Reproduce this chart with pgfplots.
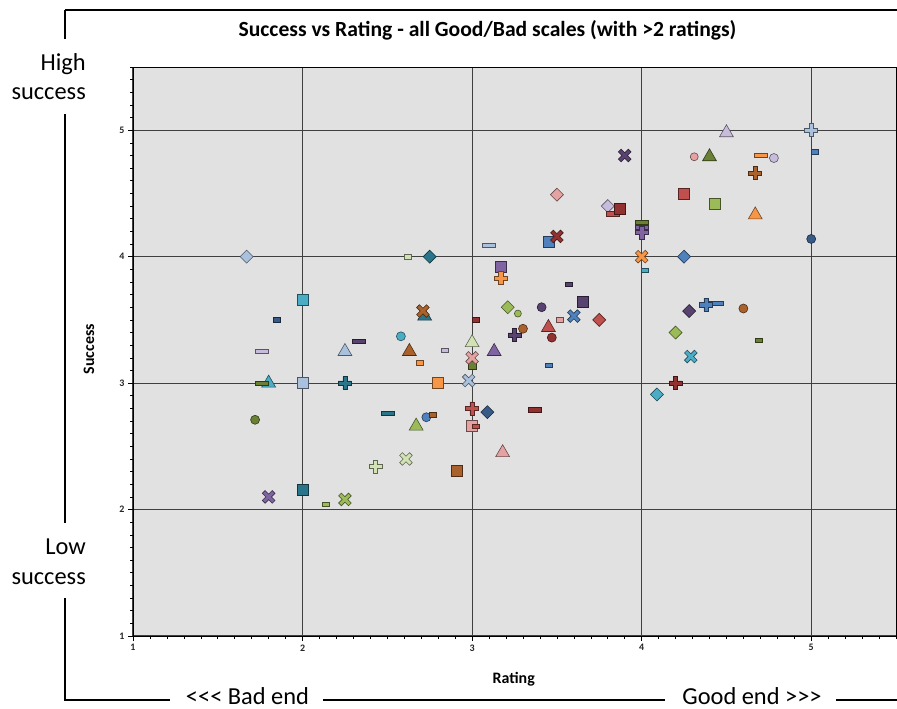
\documentclass[border=0pt]{standalone}
\usepackage{fontspec}
\setmainfont{Carlito}
\usepackage{pgfplots}
\pgfplotsset{compat=1.18}

% Excel-style palette
\definecolor{cBg}{RGB}{225,225,225}
\definecolor{cBlue}{RGB}{79,129,189}
\definecolor{cRed}{RGB}{192,80,77}
\definecolor{cGreen}{RGB}{155,187,89}
\definecolor{cPurple}{RGB}{128,100,162}
\definecolor{cAqua}{RGB}{75,172,198}
\definecolor{cOrange}{RGB}{247,150,70}
\definecolor{cDBlue}{RGB}{55,90,135}
\definecolor{cDRed}{RGB}{145,50,48}
\definecolor{cDGreen}{RGB}{106,128,52}
\definecolor{cDPurple}{RGB}{88,66,112}
\definecolor{cDAqua}{RGB}{42,117,138}
\definecolor{cDOrange}{RGB}{170,98,45}
\definecolor{cLBlue}{RGB}{170,193,222}
\definecolor{cLRed}{RGB}{229,162,162}
\definecolor{cLGreen}{RGB}{210,226,180}
\definecolor{cLPurple}{RGB}{200,188,220}

% filled marker shapes like the spreadsheet ones
\pgfdeclareplotmark{dash}{%
  \pgfpathrectangle{\pgfpoint{-\pgfplotmarksize}{-2.2bp}}{\pgfpoint{2\pgfplotmarksize}{4.4bp}}%
  \pgfusepathqfillstroke}
\pgfdeclareplotmark{dmd}{%
  \pgfpathmoveto{\pgfpoint{0pt}{\pgfplotmarksize}}%
  \pgfpathlineto{\pgfpoint{\pgfplotmarksize}{0pt}}%
  \pgfpathlineto{\pgfpoint{0pt}{-\pgfplotmarksize}}%
  \pgfpathlineto{\pgfpoint{-\pgfplotmarksize}{0pt}}%
  \pgfpathclose\pgfusepathqfillstroke}
\pgfdeclareplotmark{plusfill}{%
  \pgfpathmoveto{\pgfpoint{0.33\pgfplotmarksize}{\pgfplotmarksize}}%
  \pgfpathlineto{\pgfpoint{0.33\pgfplotmarksize}{0.33\pgfplotmarksize}}%
  \pgfpathlineto{\pgfpoint{\pgfplotmarksize}{0.33\pgfplotmarksize}}%
  \pgfpathlineto{\pgfpoint{\pgfplotmarksize}{-0.33\pgfplotmarksize}}%
  \pgfpathlineto{\pgfpoint{0.33\pgfplotmarksize}{-0.33\pgfplotmarksize}}%
  \pgfpathlineto{\pgfpoint{0.33\pgfplotmarksize}{-\pgfplotmarksize}}%
  \pgfpathlineto{\pgfpoint{-0.33\pgfplotmarksize}{-\pgfplotmarksize}}%
  \pgfpathlineto{\pgfpoint{-0.33\pgfplotmarksize}{-0.33\pgfplotmarksize}}%
  \pgfpathlineto{\pgfpoint{-\pgfplotmarksize}{-0.33\pgfplotmarksize}}%
  \pgfpathlineto{\pgfpoint{-\pgfplotmarksize}{0.33\pgfplotmarksize}}%
  \pgfpathlineto{\pgfpoint{-0.33\pgfplotmarksize}{0.33\pgfplotmarksize}}%
  \pgfpathlineto{\pgfpoint{-0.33\pgfplotmarksize}{\pgfplotmarksize}}%
  \pgfpathclose\pgfusepathqfillstroke}
\pgfdeclareplotmark{xfill}{%
  \pgfpathmoveto{\pgfpoint{-0.509\pgfplotmarksize}{0.905\pgfplotmarksize}}%
  \pgfpathlineto{\pgfpoint{0pt}{0.396\pgfplotmarksize}}%
  \pgfpathlineto{\pgfpoint{0.509\pgfplotmarksize}{0.905\pgfplotmarksize}}%
  \pgfpathlineto{\pgfpoint{0.905\pgfplotmarksize}{0.509\pgfplotmarksize}}%
  \pgfpathlineto{\pgfpoint{0.396\pgfplotmarksize}{0pt}}%
  \pgfpathlineto{\pgfpoint{0.905\pgfplotmarksize}{-0.509\pgfplotmarksize}}%
  \pgfpathlineto{\pgfpoint{0.509\pgfplotmarksize}{-0.905\pgfplotmarksize}}%
  \pgfpathlineto{\pgfpoint{0pt}{-0.396\pgfplotmarksize}}%
  \pgfpathlineto{\pgfpoint{-0.509\pgfplotmarksize}{-0.905\pgfplotmarksize}}%
  \pgfpathlineto{\pgfpoint{-0.905\pgfplotmarksize}{-0.509\pgfplotmarksize}}%
  \pgfpathlineto{\pgfpoint{-0.396\pgfplotmarksize}{0pt}}%
  \pgfpathlineto{\pgfpoint{-0.905\pgfplotmarksize}{0.509\pgfplotmarksize}}%
  \pgfpathclose\pgfusepathqfillstroke}

\pgfplotsset{
  pt/.style n args={3}{only marks, mark=#1, mark size=#2,
    mark options={solid, fill=#3, draw=#3!45!black, line width=0.6bp}},
}

\begin{document}
\begin{tikzpicture}
\useasboundingbox (0,0) rectangle (897bp,709bp);

% outer frame with the end captions
\begin{scope}[line width=1.2bp]
  \draw (65bp,699bp) -- (897bp,699bp);
  \draw (65bp,699bp) -- (65bp,670bp);
  \draw (65bp,595bp) -- (65bp,186bp);
  \draw (65bp,111bp) -- (65bp,9bp) -- (170bp,9bp);
  \draw (323bp,9bp) -- (665bp,9bp);
  \draw (836bp,9bp) -- (897bp,9bp);
\end{scope}
\begin{scope}[font=\fontsize{24.5}{29}\selectfont, inner sep=0pt]
  \node[anchor=base east] at (86bp,638bp) {High};
  \node[anchor=base east] at (86bp,609bp) {success};
  \node[anchor=base east] at (86bp,154bp) {Low};
  \node[anchor=base east] at (86bp,124bp) {success};
  \node[anchor=base] at (247.5bp,4.5bp) {<\kern0pt<\kern0pt< Bad end};
  \node[anchor=base] at (752bp,4.5bp) {Good end >\kern0pt>\kern0pt>};
\end{scope}

\begin{axis}[
  at={(133bp,73bp)}, anchor=south west,
  scale only axis, width=763bp, height=569bp,
  xmin=1, xmax=5.5, ymin=1, ymax=5.5,
  xtick={1,2,3,4,5}, ytick={1,2,3,4,5},
  minor xtick={1,1.1,...,5.5}, minor ytick={1,1.1,...,5.5},
  tick pos=left, tick align=outside,
  major tick length=5bp, minor tick length=3bp,
  tick style={black, line width=0.6bp},
  grid=major, major grid style={black!75, line width=1.1bp},
  axis line style={black, line width=0.8bp},
  axis background/.style={fill=cBg},
  ticklabel style={font=\bfseries\fontsize{10}{11}\selectfont, text=black!85},
  /pgf/number format/assume math mode=true,
  title={Success vs Rating - all Good/Bad scales (with >2 ratings)},
  title style={at={(axis description cs:0.4646,1.0427)}, anchor=base,
    font=\bfseries\fontsize{21.7}{26}\selectfont},
  xlabel={Rating}, ylabel={Success},
  xlabel style={at={(axis description cs:0.499,-0.0756)}, anchor=center,
    font=\bfseries\fontsize{16}{19}\selectfont},
  ylabel style={at={(axis description cs:-0.0577,0.504)}, anchor=center,
    font=\bfseries\fontsize{16}{19}\selectfont},
  clip=false,
]
% diamonds
\addplot[pt={dmd}{6.5bp}{cLBlue}] coordinates {(1.67,4.00)};
\addplot[pt={dmd}{6.5bp}{cDAqua}] coordinates {(2.75,4.00)};
\addplot[pt={dmd}{6.5bp}{cGreen}] coordinates {(3.21,3.60) (4.20,3.40)};
\addplot[pt={dmd}{6.5bp}{cRed}] coordinates {(3.75,3.50)};
\addplot[pt={dmd}{6.5bp}{cDBlue}] coordinates {(3.09,2.77)};
\addplot[pt={dmd}{6.5bp}{cAqua}] coordinates {(4.09,2.91)};
\addplot[pt={dmd}{6.5bp}{cBlue}] coordinates {(4.25,4.00)};
\addplot[pt={dmd}{6.5bp}{cDPurple}] coordinates {(4.28,3.57)};
\addplot[pt={dmd}{6.5bp}{cLRed}] coordinates {(3.50,4.49)};
\addplot[pt={dmd}{6.5bp}{cLPurple}] coordinates {(3.80,4.40)};
% squares
\addplot[pt={square*}{5.5bp}{cAqua}] coordinates {(2.00,3.66)};
\addplot[pt={square*}{5.5bp}{cLBlue}] coordinates {(2.00,3.00)};
\addplot[pt={square*}{5.5bp}{cOrange}] coordinates {(2.80,3.00)};
\addplot[pt={square*}{5.5bp}{cDAqua}] coordinates {(2.00,2.16)};
\addplot[pt={square*}{5.5bp}{cDOrange}] coordinates {(2.91,2.31)};
\addplot[pt={square*}{5.5bp}{cPurple}] coordinates {(3.17,3.92)};
\addplot[pt={square*}{5.5bp}{cDPurple}] coordinates {(3.65,3.64)};
\addplot[pt={square*}{5.5bp}{cLRed}] coordinates {(3.00,2.66)};
\addplot[pt={square*}{5.5bp}{cBlue}] coordinates {(3.45,4.12)};
\addplot[pt={square*}{5.5bp}{cRed}] coordinates {(4.25,4.50)};
\addplot[pt={square*}{5.5bp}{cGreen}] coordinates {(4.43,4.42)};
\addplot[pt={square*}{4bp}{cDGreen}] coordinates {(3.00,3.14)};
% triangles
\addplot[pt={triangle*}{8bp}{cLBlue}] coordinates {(2.25,3.25)};
\addplot[pt={triangle*}{8bp}{cDOrange}] coordinates {(2.63,3.25)};
\addplot[pt={triangle*}{8bp}{cAqua}] coordinates {(1.80,3.00)};
\addplot[pt={triangle*}{8bp}{cGreen}] coordinates {(2.67,2.66)};
\addplot[pt={triangle*}{8bp}{cDAqua}] coordinates {(2.72,3.53)};
\addplot[pt={triangle*}{8bp}{cLGreen}] coordinates {(3.00,3.32)};
\addplot[pt={triangle*}{8bp}{cPurple}] coordinates {(3.13,3.25)};
\addplot[pt={triangle*}{8bp}{cRed}] coordinates {(3.45,3.44)};
\addplot[pt={triangle*}{8bp}{cLRed}] coordinates {(3.18,2.45)};
\addplot[pt={triangle*}{8bp}{cLPurple}] coordinates {(4.50,4.98)};
\addplot[pt={triangle*}{8bp}{cDGreen}] coordinates {(4.40,4.79)};
\addplot[pt={triangle*}{8bp}{cOrange}] coordinates {(4.67,4.33)};
% circles
\addplot[pt={*}{4.5bp}{cAqua}] coordinates {(2.58,3.37)};
\addplot[pt={*}{4.5bp}{cDGreen}] coordinates {(1.72,2.71)};
\addplot[pt={*}{4.5bp}{cBlue}] coordinates {(2.73,2.73)};
\addplot[pt={*}{3.5bp}{cGreen}] coordinates {(3.27,3.55)};
\addplot[pt={*}{4.5bp}{cDOrange}] coordinates {(3.30,3.43) (4.60,3.59)};
\addplot[pt={*}{4.5bp}{cDPurple}] coordinates {(3.41,3.60)};
\addplot[pt={*}{4.5bp}{cDRed}] coordinates {(3.47,3.36)};
\addplot[pt={*}{4bp}{cLRed}] coordinates {(4.31,4.79)};
\addplot[pt={*}{4.5bp}{cLPurple}] coordinates {(4.78,4.78)};
\addplot[pt={*}{4.5bp}{cDBlue}] coordinates {(5.00,4.14)};
% dashes
\addplot[pt={dash}{6.5bp}{cLPurple}] coordinates {(1.76,3.25)};
\addplot[pt={dash}{6.5bp}{cDGreen}] coordinates {(1.76,3.00) (4.00,4.27)};
\addplot[pt={dash}{6.5bp}{cDPurple}] coordinates {(2.33,3.33)};
\addplot[pt={dash}{6.5bp}{cDAqua}] coordinates {(2.50,2.76)};
\addplot[pt={dash}{6.5bp}{cDRed}] coordinates {(3.37,2.79)};
\addplot[pt={dash}{6.5bp}{cLBlue}] coordinates {(3.10,4.09)};
\addplot[pt={dash}{6.5bp}{cRed}] coordinates {(3.83,4.34)};
\addplot[pt={dash}{6.5bp}{cOrange}] coordinates {(4.70,4.80)};
\addplot[pt={dash}{7.5bp}{cBlue}] coordinates {(4.44,3.63)};
\addplot[pt={dash}{6.5bp}{cPurple}] coordinates {(4.00,4.23)};
\addplot[pt={dash}{3.5bp}{cLGreen}] coordinates {(2.62,4.00)};
\addplot[pt={dash}{3.5bp}{cDBlue}] coordinates {(1.85,3.50)};
\addplot[pt={dash}{3.5bp}{cLPurple}] coordinates {(2.84,3.26)};
\addplot[pt={dash}{3.5bp}{cOrange}] coordinates {(2.69,3.16)};
\addplot[pt={dash}{3.5bp}{cDOrange}] coordinates {(2.77,2.75)};
\addplot[pt={dash}{3.5bp}{cGreen}] coordinates {(2.14,2.04)};
\addplot[pt={dash}{3.5bp}{cDRed}] coordinates {(3.02,3.50)};
\addplot[pt={dash}{3.5bp}{cDPurple}] coordinates {(3.57,3.78)};
\addplot[pt={dash}{3.5bp}{cLRed}] coordinates {(3.52,3.50)};
\addplot[pt={dash}{3.5bp}{cBlue}] coordinates {(3.45,3.14) (5.02,4.83)};
\addplot[pt={dash}{3.5bp}{cAqua}] coordinates {(4.02,3.89)};
\addplot[pt={dash}{3.5bp}{cDGreen}] coordinates {(4.69,3.34)};
\addplot[pt={dash}{3.5bp}{cRed}] coordinates {(3.02,2.66)};
% squares drawn over dashes
\addplot[pt={square*}{5.5bp}{cDRed}] coordinates {(3.87,4.38)};
% plus signs
\addplot[pt={plusfill}{6.5bp}{cDAqua}] coordinates {(2.25,3.00)};
\addplot[pt={plusfill}{6.5bp}{cLGreen}] coordinates {(2.43,2.34)};
\addplot[pt={plusfill}{6.5bp}{cOrange}] coordinates {(3.17,3.83)};
\addplot[pt={plusfill}{6.5bp}{cDPurple}] coordinates {(3.25,3.38)};
\addplot[pt={plusfill}{6.5bp}{cRed}] coordinates {(3.00,2.80)};
\addplot[pt={plusfill}{6.5bp}{cDRed}] coordinates {(4.20,3.00)};
\addplot[pt={plusfill}{6.5bp}{cBlue}] coordinates {(4.38,3.62)};
\addplot[pt={plusfill}{6.5bp}{cLBlue}] coordinates {(5.00,5.00)};
\addplot[pt={plusfill}{6.5bp}{cDOrange}] coordinates {(4.67,4.66)};
\addplot[pt={plusfill}{6.5bp}{cPurple}] coordinates {(4.00,4.19)};
% crosses
\addplot[pt={xfill}{7bp}{cDOrange}] coordinates {(2.71,3.57)};
\addplot[pt={xfill}{7bp}{cLBlue}] coordinates {(2.98,3.02)};
\addplot[pt={xfill}{7bp}{cLRed}] coordinates {(3.00,3.20)};
\addplot[pt={xfill}{7bp}{cLGreen}] coordinates {(2.61,2.40)};
\addplot[pt={xfill}{7bp}{cPurple}] coordinates {(1.80,2.10)};
\addplot[pt={xfill}{7bp}{cGreen}] coordinates {(2.25,2.08)};
\addplot[pt={xfill}{7bp}{cBlue}] coordinates {(3.60,3.53)};
\addplot[pt={xfill}{7bp}{cDPurple}] coordinates {(3.90,4.80)};
\addplot[pt={xfill}{7bp}{cDRed}] coordinates {(3.50,4.16)};
\addplot[pt={xfill}{7bp}{cOrange}] coordinates {(4.00,4.00)};
\addplot[pt={xfill}{7bp}{cAqua}] coordinates {(4.29,3.21)};
% stars
\addplot[pt={star*}{10bp}{cAqua}] coordinates {(2.75,3.49)};
\addplot[pt={star*}{10bp}{cLBlue}] coordinates {(3.05,3.44)};
\addplot[pt={star*}{10bp}{cRed}] coordinates {(3.29,3.51)};
\addplot[pt={star*}{10bp}{cOrange}] coordinates {(3.20,3.32)};
\addplot[pt={star*}{10bp}{cLGreen}] coordinates {(3.20,3.00)};
\addplot[pt={star*}{10bp}{cPurple}] coordinates {(3.50,3.76)};
\addplot[pt={star*}{10bp}{cDGreen}] coordinates {(3.80,3.81)};
\addplot[pt={star*}{10bp}{cLRed}] coordinates {(3.80,3.41)};
\addplot[pt={star*}{10bp}{cDAqua}] coordinates {(3.40,3.13)};
\addplot[pt={star*}{10bp}{cDRed}] coordinates {(3.66,3.00)};
\addplot[pt={star*}{10bp}{cBlue}] coordinates {(3.66,2.34)};
\addplot[pt={star*}{10bp}{cLPurple}] coordinates {(4.40,3.81)};
\addplot[pt={star*}{10bp}{cDBlue}] coordinates {(4.50,3.76)};
\end{axis}
\end{tikzpicture}
\end{document}
